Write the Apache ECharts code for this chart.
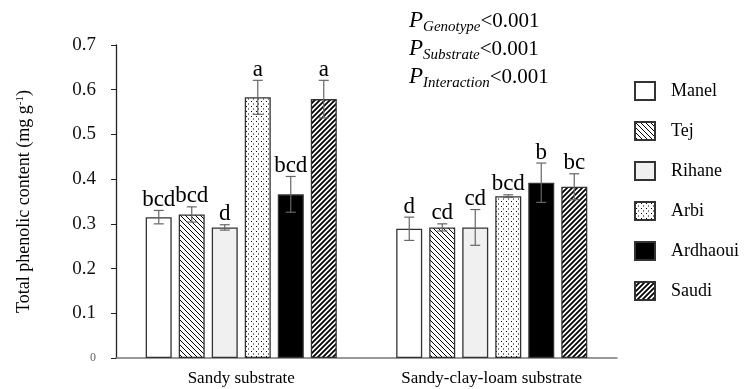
<!DOCTYPE html>
<html>
<head>
<meta charset="utf-8">
<script src="https://cdn.jsdelivr.net/npm/echarts@6/dist/echarts.min.js"></script>
<style>
  html, body { margin: 0; padding: 0; background: #fff; }
  #chart { width: 745px; height: 389px; }
</style>
</head>
<body>
<div id="chart"></div>
<script>
const substrates = ['Sandy substrate', 'Sandy-clay-loam substrate']
const genotypes = ['Manel', 'Tej', 'Rihane', 'Arbi', 'Ardhaoui', 'Saudi']
// mean values per genotype: [sandy, sandy-clay-loam]
const means = [
  [0.315, 0.289],
  [0.321, 0.292],
  [0.292, 0.292],
  [0.583, 0.362],
  [0.366, 0.392],
  [0.579, 0.383]
]
const errors = [
  [0.015, 0.026],
  [0.017, 0.008],
  [0.006, 0.040],
  [0.038, 0.003],
  [0.040, 0.044],
  [0.042, 0.029]
]
const letters = [
  ['bcd', 'd'],
  ['bcd', 'cd'],
  ['d', 'cd'],
  ['a', 'bcd'],
  ['bcd', 'b'],
  ['a', 'bc']
]
const yTicks = [0, 0.7, 0.1]

const serif = 'Liberation Serif, Times New Roman, serif'

// hatch / dot patterns
function makePattern (kind) {
  const c = document.createElement('canvas')
  c.width = 5
  c.height = 5
  const ctx = c.getContext('2d')
  ctx.fillStyle = '#fff'
  ctx.fillRect(0, 0, 5, 5)
  ctx.strokeStyle = '#000'
  ctx.fillStyle = '#000'
  if (kind === 'back') {
    ctx.lineWidth = 1
    ctx.beginPath()
    ctx.moveTo(0, 0); ctx.lineTo(5, 5)
    ctx.moveTo(-3, 2); ctx.lineTo(3, 8)
    ctx.moveTo(2, -3); ctx.lineTo(8, 3)
    ctx.stroke()
  } else if (kind === 'fwd') {
    ctx.lineWidth = 1.8
    ctx.beginPath()
    ctx.moveTo(0, 5); ctx.lineTo(5, 0)
    ctx.moveTo(-3, 3); ctx.lineTo(3, -3)
    ctx.moveTo(2, 8); ctx.lineTo(8, 2)
    ctx.stroke()
  } else if (kind === 'dots') {
    ctx.fillRect(1, 1, 1, 1)
    ctx.fillRect(3, 3.5, 1, 1)
  }
  return { image: c, repeat: 'repeat' }
}

const fills = ['#ffffff', makePattern('back'), '#f0f0f0', makePattern('dots'), '#000000', makePattern('fwd')]

const barW = 26
const step = 33

const barSeries = genotypes.map((g, i) => ({
  name: g,
  type: 'bar',
  barWidth: barW,
  barGap: '27%',
  itemStyle: { color: fills[i], borderColor: '#333', borderWidth: 1.3 },
  data: means[i]
}))

const errData = []
genotypes.forEach((g, i) => {
  substrates.forEach((s, j) => {
    errData.push([j, means[i][j], errors[i][j], i, letters[i][j]])
  })
})

const errSeries = {
  name: 'err',
  type: 'custom',
  z: 10,
  data: errData,
  renderItem (params, api) {
    const cat = api.value(0)
    const val = api.value(1)
    const err = api.value(2)
    const k = api.value(3)
    const off = (k - 2.5) * step
    const top = api.coord([cat, val + err])
    const bot = api.coord([cat, val - err])
    const x = top[0] + off
    const cap = 5
    const lineStyle = { stroke: '#666', lineWidth: 1.2 }
    return {
      type: 'group',
      children: [
        { type: 'line', shape: { x1: x, y1: top[1], x2: x, y2: bot[1] }, style: lineStyle },
        { type: 'line', shape: { x1: x - cap, y1: top[1], x2: x + cap, y2: top[1] }, style: lineStyle },
        { type: 'line', shape: { x1: x - cap, y1: bot[1], x2: x + cap, y2: bot[1] }, style: lineStyle },
        {
          type: 'text',
          x: x,
          y: top[1] + 1,
          style: {
            text: errData[params.dataIndex][4],
            fill: '#000',
            font: '23px ' + serif,
            align: 'center',
            verticalAlign: 'bottom'
          }
        }
      ]
    }
  }
}

const chart = echarts.init(document.getElementById('chart'))
chart.setOption({
  animation: false,
  grid: { left: 116, right: 128, top: 45, bottom: 31 },
  legend: {
    data: genotypes,
    orient: 'vertical',
    left: 629,
    top: 76,
    icon: 'rect',
    itemWidth: 20,
    itemHeight: 18,
    itemGap: 20,
    textStyle: { fontFamily: serif, fontSize: 18, color: '#000', padding: [0, 0, 0, 11] }
  },
  xAxis: {
    type: 'category',
    data: substrates,
    axisLine: { lineStyle: { color: '#777', width: 1.5 } },
    axisTick: { show: false },
    axisLabel: { fontFamily: serif, fontSize: 17, color: '#000', margin: 12 }
  },
  yAxis: {
    type: 'value',
    min: yTicks[0],
    max: yTicks[1],
    interval: yTicks[2],
    name: 'Total phenolic content (mg g{sup|-1})',
    nameLocation: 'middle',
    nameGap: 82,
    nameTextStyle: {
      fontFamily: serif,
      fontSize: 18,
      color: '#000',
      rich: { sup: { fontFamily: serif, fontSize: 11, verticalAlign: 'top', padding: [0, 0, 8, 0] } }
    },
    splitLine: { show: false },
    axisLine: { show: true, lineStyle: { color: '#222', width: 1.3 } },
    axisTick: { show: true, inside: false, length: 5, lineStyle: { color: '#222' } },
    axisLabel: {
      margin: 20,
      formatter (v) {
        return v === 0 ? '{z|0}' : '{n|' + v.toFixed(1) + '}'
      },
      rich: {
        n: { fontFamily: serif, fontSize: 19, color: '#111' },
        z: { fontFamily: serif, fontSize: 12, color: '#666' }
      }
    }
  },
  graphic: [
    {
      type: 'text',
      left: 409,
      top: 7,
      style: {
        text: '{p|P}{s|Genotype}{v|<0.001}\n{p|P}{s|Substrate}{v|<0.001}\n{p|P}{s|Interaction}{v|<0.001}',
        lineHeight: 28,
        rich: {
          p: { font: 'italic 23px ' + serif, fill: '#000', lineHeight: 28 },
          s: { font: 'italic 15px ' + serif, fill: '#000', verticalAlign: 'bottom', padding: [9, 0, 0, 0], lineHeight: 28 },
          v: { font: '21px ' + serif, fill: '#000', lineHeight: 28 }
        }
      }
    }
  ],
  series: [...barSeries, errSeries]
})
</script>
</body>
</html>
